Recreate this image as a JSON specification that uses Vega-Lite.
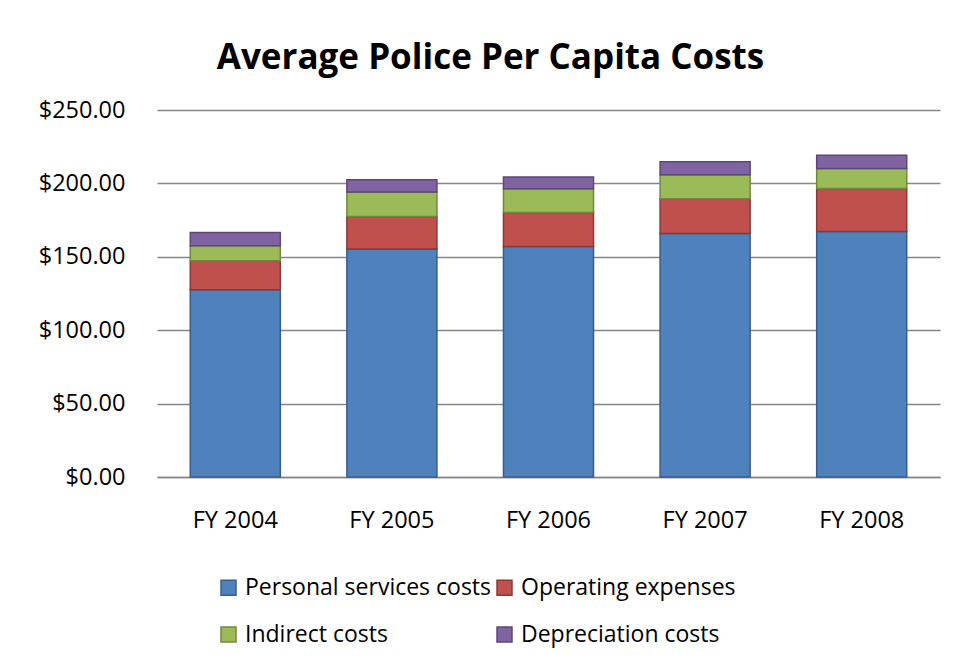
{
  "$schema": "https://vega.github.io/schema/vega-lite/v6.json",
  "width": 783,
  "height": 367,
  "autosize": {"type": "none"},
  "padding": {"left": 157, "top": 110, "right": 18, "bottom": 194},
  "background": "white",
  "title": {
    "text": "Average Police Per Capita Costs",
    "font": "Open Sans",
    "fontSize": 35,
    "fontWeight": "bold",
    "color": "#000000",
    "anchor": "middle",
    "frame": "group",
    "dx": -58,
    "baseline": "alphabetic",
    "offset": -6
  },
  "data": {
    "values": [
      {"year": "FY 2004", "cost": "Personal services costs", "rank": 1, "value": 127.6},
      {"year": "FY 2004", "cost": "Operating expenses", "rank": 2, "value": 19.7},
      {"year": "FY 2004", "cost": "Indirect costs", "rank": 3, "value": 10.3},
      {"year": "FY 2004", "cost": "Depreciation costs", "rank": 4, "value": 9.0},
      {"year": "FY 2005", "cost": "Personal services costs", "rank": 1, "value": 155.3},
      {"year": "FY 2005", "cost": "Operating expenses", "rank": 2, "value": 22.2},
      {"year": "FY 2005", "cost": "Indirect costs", "rank": 3, "value": 16.6},
      {"year": "FY 2005", "cost": "Depreciation costs", "rank": 4, "value": 8.4},
      {"year": "FY 2006", "cost": "Personal services costs", "rank": 1, "value": 157.1},
      {"year": "FY 2006", "cost": "Operating expenses", "rank": 2, "value": 23.1},
      {"year": "FY 2006", "cost": "Indirect costs", "rank": 3, "value": 16.2},
      {"year": "FY 2006", "cost": "Depreciation costs", "rank": 4, "value": 8.0},
      {"year": "FY 2007", "cost": "Personal services costs", "rank": 1, "value": 165.9},
      {"year": "FY 2007", "cost": "Operating expenses", "rank": 2, "value": 23.7},
      {"year": "FY 2007", "cost": "Indirect costs", "rank": 3, "value": 16.3},
      {"year": "FY 2007", "cost": "Depreciation costs", "rank": 4, "value": 8.9},
      {"year": "FY 2008", "cost": "Personal services costs", "rank": 1, "value": 167.3},
      {"year": "FY 2008", "cost": "Operating expenses", "rank": 2, "value": 29.3},
      {"year": "FY 2008", "cost": "Indirect costs", "rank": 3, "value": 13.6},
      {"year": "FY 2008", "cost": "Depreciation costs", "rank": 4, "value": 8.9}
    ]
  },
  "mark": {"type": "bar", "strokeWidth": 1.5},
  "encoding": {
    "x": {
      "field": "year",
      "type": "nominal",
      "scale": {"paddingInner": 0.425, "paddingOuter": 0.2125},
      "axis": {
        "title": null,
        "labelAngle": 0,
        "labelFont": "Open Sans",
        "labelFontSize": 23.5,
        "labelColor": "#000000",
        "labelPadding": 31,
        "ticks": false,
        "domain": true,
        "domainColor": "#868686",
        "domainWidth": 1.3
      }
    },
    "y": {
      "field": "value",
      "type": "quantitative",
      "stack": "zero",
      "scale": {"domain": [0, 250]},
      "axis": {
        "title": null,
        "values": [0, 50, 100, 150, 200, 250],
        "format": "$,.2f",
        "labelFont": "Open Sans",
        "labelFontSize": 23.5,
        "labelColor": "#000000",
        "labelPadding": 32,
        "ticks": false,
        "domain": false,
        "grid": true,
        "gridColor": "#868686",
        "gridWidth": 1.3
      }
    },
    "order": {"field": "rank", "type": "quantitative", "sort": "ascending"},
    "color": {
      "field": "cost",
      "type": "nominal",
      "scale": {
        "domain": ["Personal services costs", "Operating expenses", "Indirect costs", "Depreciation costs"],
        "range": ["#4F81BD", "#C0504D", "#9BBB59", "#8064A2"]
      },
      "legend": {
        "title": null,
        "orient": "none",
        "direction": "horizontal",
        "legendX": 60,
        "legendY": 466,
        "columns": 2,
        "columnPadding": 1,
        "rowPadding": 23,
        "symbolType": "square",
        "symbolSize": 225,
        "symbolStrokeWidth": 1.5,
        "symbolOpacity": 1,
        "labelOffset": 5,
        "labelFont": "Open Sans",
        "labelFontSize": 23,
        "labelColor": "#000000",
        "labelLimit": 400
      }
    },
    "stroke": {
      "field": "cost",
      "type": "nominal",
      "scale": {
        "domain": ["Personal services costs", "Operating expenses", "Indirect costs", "Depreciation costs"],
        "range": ["#385D8A", "#8C3836", "#71893F", "#5C4776"]
      },
      "legend": {
        "title": null,
        "orient": "none",
        "direction": "horizontal",
        "legendX": 60,
        "legendY": 466,
        "columns": 2,
        "columnPadding": 1,
        "rowPadding": 23,
        "symbolType": "square",
        "symbolSize": 225,
        "symbolStrokeWidth": 1.5,
        "symbolOpacity": 1,
        "labelOffset": 5,
        "labelFont": "Open Sans",
        "labelFontSize": 23,
        "labelColor": "#000000",
        "labelLimit": 400
      }
    }
  },
  "config": {
    "view": {"stroke": null}
  }
}
